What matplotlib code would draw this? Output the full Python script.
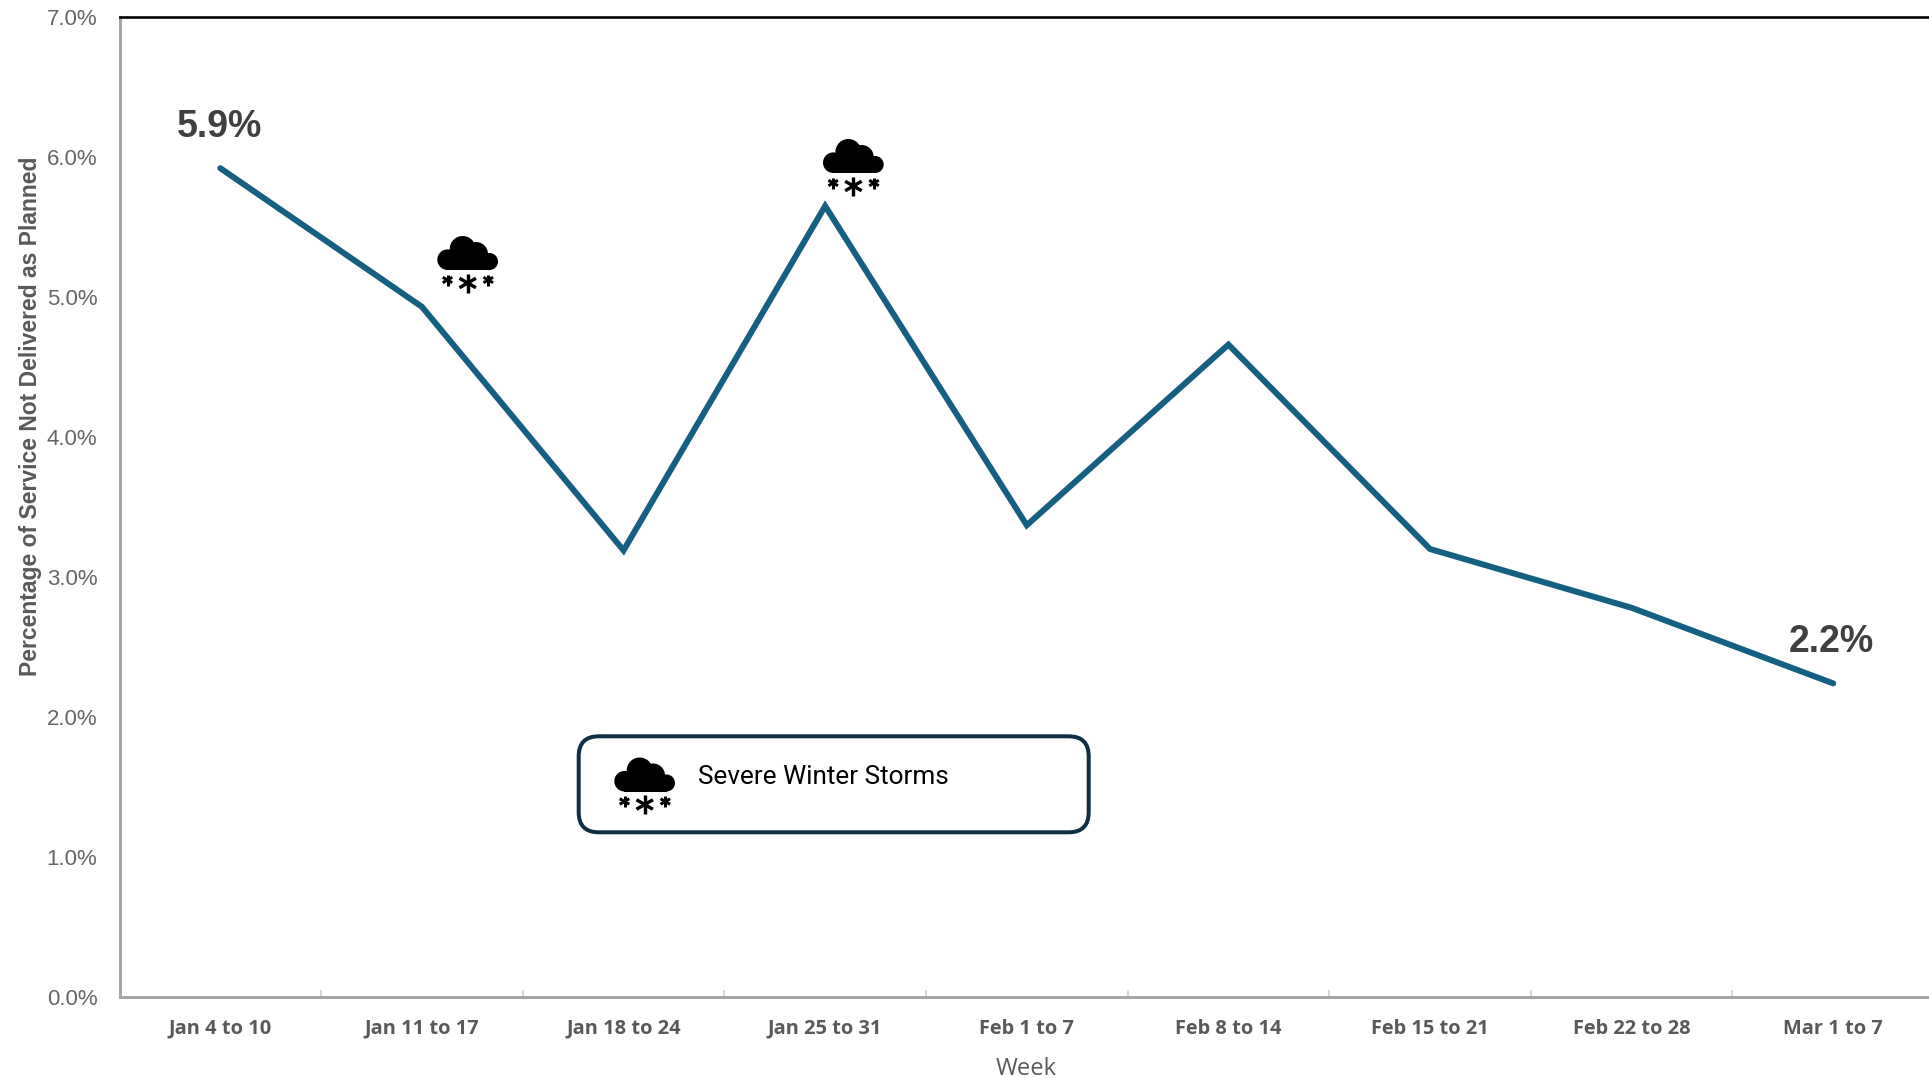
import numpy as np
import matplotlib
matplotlib.use('Agg')
import matplotlib.pyplot as plt
from matplotlib.patches import Circle, FancyBboxPatch, Rectangle
from matplotlib.lines import Line2D
from matplotlib.ticker import FuncFormatter, MultipleLocator
from matplotlib.transforms import Affine2D

WIDTH, HEIGHT = 1929, 1078

weeks = ['Jan 4 to 10', 'Jan 11 to 17', 'Jan 18 to 24', 'Jan 25 to 31', 'Feb 1 to 7',
         'Feb 8 to 14', 'Feb 15 to 21', 'Feb 22 to 28', 'Mar 1 to 7']
not_delivered = [5.92, 4.93, 3.19, 5.65, 3.37, 4.66, 3.20, 2.78, 2.24]

LINE_COLOR = '#156082'
GREY = '#595959'
AXIS_GREY = '#a6a6a6'

plt.rcParams['font.family'] = ['Liberation Sans', 'DejaVu Sans']

fig = plt.figure(figsize=(WIDTH / 100, HEIGHT / 100), dpi=100)

# y-down pixel space, used for the storm icons and the key box
px = Affine2D().scale(1, -1).translate(0, HEIGHT)


def pt(pixels):
    return pixels * 72 / 100


def draw_asterisk(x, y, r, lw):
    for angle in (90, 30, 150):
        dx, dy = r * np.cos(np.deg2rad(angle)), r * np.sin(np.deg2rad(angle))
        fig.add_artist(Line2D([x - dx, x + dx], [y - dy, y + dy], color='black',
                              lw=pt(lw), transform=px, solid_capstyle='butt', zorder=6))


def draw_storm(left, top):
    # cloud built from four bumps over a flat base, three flakes underneath
    for cx, cy, r in ((10.6, 23.7, 10.3), (25.7, 13, 13), (39, 18, 12), (52.5, 25.5, 8.5)):
        fig.add_artist(Circle((left + cx, top + cy), r, color='black', lw=0, transform=px, zorder=6))
    fig.add_artist(Rectangle((left + 10, top + 18), 43, 16, color='black', lw=0, transform=px, zorder=6))
    draw_asterisk(left + 10.5, top + 44, 5.5, 3)
    draw_asterisk(left + 30.7, top + 47, 9.5, 3.4)
    draw_asterisk(left + 51.3, top + 44, 5.5, 3)


ax = fig.add_axes([119.5 / WIDTH, 1 - 997 / HEIGHT, 1 - 119.5 / WIDTH, 980 / HEIGHT])
x = np.arange(len(weeks))
ax.plot(x, not_delivered, color=LINE_COLOR, lw=pt(6), solid_capstyle='round', solid_joinstyle='miter')

ax.set_xlim(-0.5, 8.475)
ax.set_ylim(0, 7)

# boundaries get the tick marks, category names sit on unmarked minor ticks
ax.set_xticks(x[:-1] + 0.5)
ax.set_xticklabels([])
ax.set_xticks(x, minor=True)
ax.set_xticklabels(weeks, minor=True, fontsize=14.4, fontweight='bold', color=GREY, family='Open Sans')
ax.tick_params(axis='x', which='major', direction='in', length=5, width=1.2, color='#d0d0d0')
ax.tick_params(axis='x', which='minor', length=0, pad=15.5)

ax.yaxis.set_major_locator(MultipleLocator(1))
ax.yaxis.set_major_formatter(FuncFormatter(lambda v, _: '%.1f%%' % v))
ax.tick_params(axis='y', length=0, pad=16, labelsize=16, labelcolor='#666666')
for label in ax.get_yticklabels():
    label.set_verticalalignment('center_baseline')

ax.spines['right'].set_visible(False)
ax.spines['top'].set_linewidth(pt(2.6))
ax.spines['top'].set_color('black')
for side in ('left', 'bottom'):
    ax.spines[side].set_linewidth(pt(3))
    ax.spines[side].set_color(AXIS_GREY)

fig.text(1026 / WIDTH, 1 - 1069 / HEIGHT, 'Week', fontsize=17, color=GREY,
         ha='center', va='center', family='Open Sans')
fig.text(31 / WIDTH, 1 - 416 / HEIGHT, 'Percentage of Service Not Delivered as Planned',
         fontsize=16.5, fontweight='bold', color=GREY, rotation=90, ha='center', va='center')

ax.annotate('5.9%', (0, not_delivered[0]), xytext=(-0.5, 30), textcoords='offset points',
            ha='center', va='center', fontsize=27, fontweight='bold', color='#404040')
ax.annotate('2.2%', (8, not_delivered[8]), xytext=(-1, 30), textcoords='offset points',
            ha='center', va='center', fontsize=27, fontweight='bold', color='#404040')

draw_storm(437, 236)
draw_storm(822.7, 139)

fig.add_artist(FancyBboxPatch((593.7, 751.3), 480, 66, boxstyle='round,pad=15,rounding_size=20',
                              fc='white', ec='#0e2f44', lw=pt(4), transform=px, zorder=5))
draw_storm(614, 757.5)
fig.text(698 / WIDTH, 1 - 777 / HEIGHT, 'Severe Winter Storms', fontsize=18.8, color='black',
         ha='left', va='center', family='Roboto', zorder=6)

fig.savefig('out.png', dpi=100)
